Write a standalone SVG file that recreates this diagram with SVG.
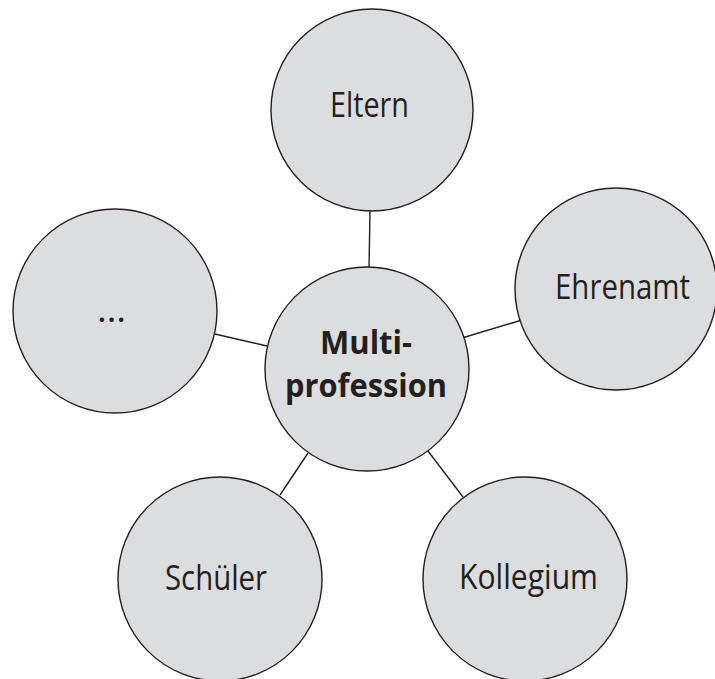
<svg xmlns="http://www.w3.org/2000/svg" width="715" height="679" viewBox="0 0 715 679">
<style>
.n{fill:#dcdddf;stroke:#231f20;stroke-width:1.4}
.c line{stroke:#231f20;stroke-width:1.4}
text{font-family:"Open Sans","Noto Sans","Liberation Sans",sans-serif;font-size:34px;fill:#231f20;text-anchor:middle}
.b{font-weight:bold;font-size:33px}
</style>
<rect width="715" height="679" fill="#fff"/>
<g class="c" id="connectors">
<line x1="370" y1="211" x2="369" y2="268"/>
<line x1="215" y1="334" x2="267" y2="346"/>
<line x1="462" y1="338" x2="522" y2="320"/>
<line x1="308" y1="453" x2="280" y2="495"/>
<line x1="428" y1="451" x2="463" y2="497"/>
</g>
<g id="eltern"><circle class="n" cx="372" cy="110" r="101"/><text x="369.5" y="117" textLength="79" lengthAdjust="spacingAndGlyphs">Eltern</text></g>
<g id="dots"><circle class="n" cx="115" cy="311" r="102"/><text x="111.5" y="322" textLength="29" lengthAdjust="spacingAndGlyphs">…</text></g>
<g id="ehrenamt"><circle class="n" cx="616" cy="289" r="101"/><text x="622.5" y="299" textLength="135" lengthAdjust="spacingAndGlyphs">Ehrenamt</text></g>
<g id="schueler"><circle class="n" cx="220" cy="579" r="102"/><text x="216" y="590" textLength="102" lengthAdjust="spacingAndGlyphs">Schüler</text></g>
<g id="kollegium"><circle class="n" cx="525" cy="579" r="102"/><text x="528.5" y="589" textLength="139" lengthAdjust="spacingAndGlyphs">Kollegium</text></g>
<g id="multiprofession"><circle class="n" cx="367" cy="369" r="102"/>
<text class="b" x="366" y="354" textLength="92" lengthAdjust="spacingAndGlyphs">Multi-</text>
<text class="b" x="366" y="397" textLength="162" lengthAdjust="spacingAndGlyphs">profession</text></g>
</svg>
